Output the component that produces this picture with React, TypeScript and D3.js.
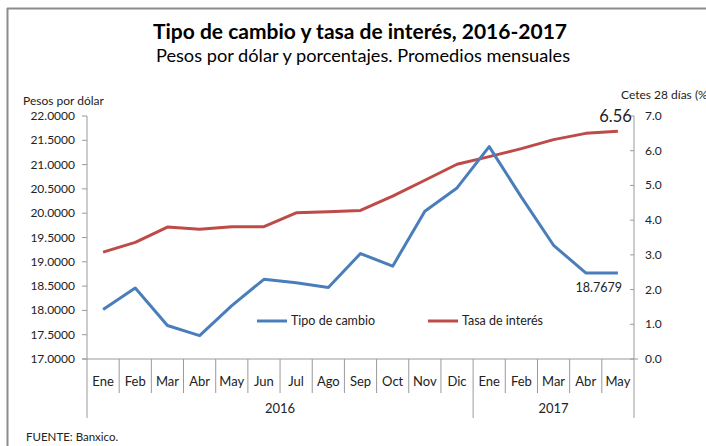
import React from "react";
import * as d3 from "d3";

const months = ["Ene","Feb","Mar","Abr","May","Jun","Jul","Ago","Sep","Oct","Nov","Dic","Ene","Feb","Mar","Abr","May"];
const years = [
  { label: "2016", start: 0, end: 12 },
  { label: "2017", start: 12, end: 17 },
];
const tipoCambio = [18.02, 18.46, 17.69, 17.48, 18.10, 18.64, 18.57, 18.47, 19.17, 18.91, 20.04, 20.52, 21.37, 20.33, 19.34, 18.77, 18.7679];
const tasaInteres = [3.08, 3.36, 3.80, 3.74, 3.81, 3.81, 4.21, 4.24, 4.28, 4.69, 5.15, 5.61, 5.83, 6.06, 6.32, 6.50, 6.56];
const leftTicks = [17, 17.5, 18, 18.5, 19, 19.5, 20, 20.5, 21, 21.5, 22];
const rightTicks = [0, 1, 2, 3, 4, 5, 6, 7];

const W = 706, H = 446;
const FONT = "Lato, 'Open Sans', sans-serif";
const BLUE = "#4A7EBB";
const RED = "#BE4B48";
const AX = "#9a9a9a";

export default function App() {
  const x0 = 87, x1 = 634, yTop = 116, yBot = 359;
  const x = d3.scaleBand<number>().domain(d3.range(months.length)).range([x0, x1]);
  const yL = d3.scaleLinear().domain([17, 22]).range([yBot, yTop]);
  const yR = d3.scaleLinear().domain([0, 7]).range([yBot, yTop]);
  const cx = (i: number) => (x(i) as number) + x.bandwidth() / 2;
  const lineL = d3.line<number>().x((_, i) => cx(i)).y((d) => yL(d));
  const lineR = d3.line<number>().x((_, i) => cx(i)).y((d) => yR(d));
  const edge = (i: number) => (i >= months.length ? x1 : (x(i) as number));
  const last = months.length - 1;

  return (
    <svg width={W} height={H} style={{ position: "absolute", left: 0, top: 0, background: "#fff" }} fontFamily={FONT}>
      <rect x={0} y={0} width={W} height={H} fill="#fff" />
      {/* frame */}
      <line x1={7.5} y1={8} x2={7.5} y2={H} stroke="#8c8c8c" strokeWidth={2} />
      <line x1={7} y1={8.5} x2={W} y2={8.5} stroke="#8c8c8c" strokeWidth={2} />

      <text x={360} y={39} textAnchor="middle" fontSize={21} fontWeight="bold" fill="#000">Tipo de cambio y tasa de interés, 2016-2017</text>
      <text x={363} y={62} textAnchor="middle" fontSize={18.2} fill="#000">Pesos por dólar y porcentajes. Promedios mensuales</text>

      <text x={23} y={105} fontSize={12} fill="#222">Pesos por dólar</text>
      <text x={621} y={99} fontSize={12} fill="#222">Cetes 28 días (%)</text>

      {/* left axis */}
      <line x1={x0} y1={yTop} x2={x0} y2={yBot} stroke={AX} />
      {leftTicks.map((t) => (
        <g key={"l" + t}>
          <line x1={x0 - 5} x2={x0} y1={yL(t)} y2={yL(t)} stroke={AX} />
          <text x={75} y={yL(t) + 4} textAnchor="end" fontSize={12} fill="#222">{t.toFixed(4)}</text>
        </g>
      ))}
      {/* right axis */}
      <line x1={x1} y1={yTop} x2={x1} y2={yBot} stroke={AX} />
      {rightTicks.map((t) => (
        <g key={"r" + t}>
          <line x1={x1 - 4} x2={x1} y1={yR(t)} y2={yR(t)} stroke={AX} />
          <text x={645} y={yR(t) + 4} fontSize={12} fill="#222">{t.toFixed(1)}</text>
        </g>
      ))}
      {/* category axis */}
      <line x1={x0 - 5} x2={x1 + 4} y1={yBot} y2={yBot} stroke={AX} />
      {d3.range(months.length + 1).map((i) => {
        const isYear = years.some((y) => y.start === i || y.end === i);
        return <line key={"s" + i} x1={edge(i)} x2={edge(i)} y1={yBot} y2={isYear ? 418 : 393} stroke={AX} />;
      })}
      {months.map((m, i) => (
        <text key={"m" + i} x={cx(i)} y={386} textAnchor="middle" fontSize={13} fill="#222">{m}</text>
      ))}
      {years.map((y) => (
        <text key={y.label} x={(edge(y.start) + edge(y.end)) / 2} y={413} textAnchor="middle" fontSize={13} fill="#222">{y.label}</text>
      ))}

      {/* series */}
      <path d={lineR(tasaInteres) ?? ""} fill="none" stroke={RED} strokeWidth={3} strokeLinejoin="round" />
      <path d={lineL(tipoCambio) ?? ""} fill="none" stroke={BLUE} strokeWidth={3} strokeLinejoin="round" />

      <text x={cx(last) + 14} y={yR(tasaInteres[last]) - 9} textAnchor="end" fontSize={16.5} fill="#222">{tasaInteres[last].toFixed(2)}</text>
      <text x={cx(last) + 4} y={yL(tipoCambio[last]) + 19} textAnchor="end" fontSize={12.5} fill="#222">{tipoCambio[last].toFixed(4)}</text>

      {/* legend */}
      <line x1={257} x2={287} y1={321} y2={321} stroke={BLUE} strokeWidth={3} />
      <text x={291} y={325} fontSize={12.5} fill="#222">Tipo de cambio</text>
      <line x1={428} x2={458} y1={321} y2={321} stroke={RED} strokeWidth={3} />
      <text x={462} y={325} fontSize={12.5} fill="#222">Tasa de interés</text>

      <text x={26} y={441} fontSize={11.5} fill="#222">FUENTE: Banxico.</text>
    </svg>
  );
}
